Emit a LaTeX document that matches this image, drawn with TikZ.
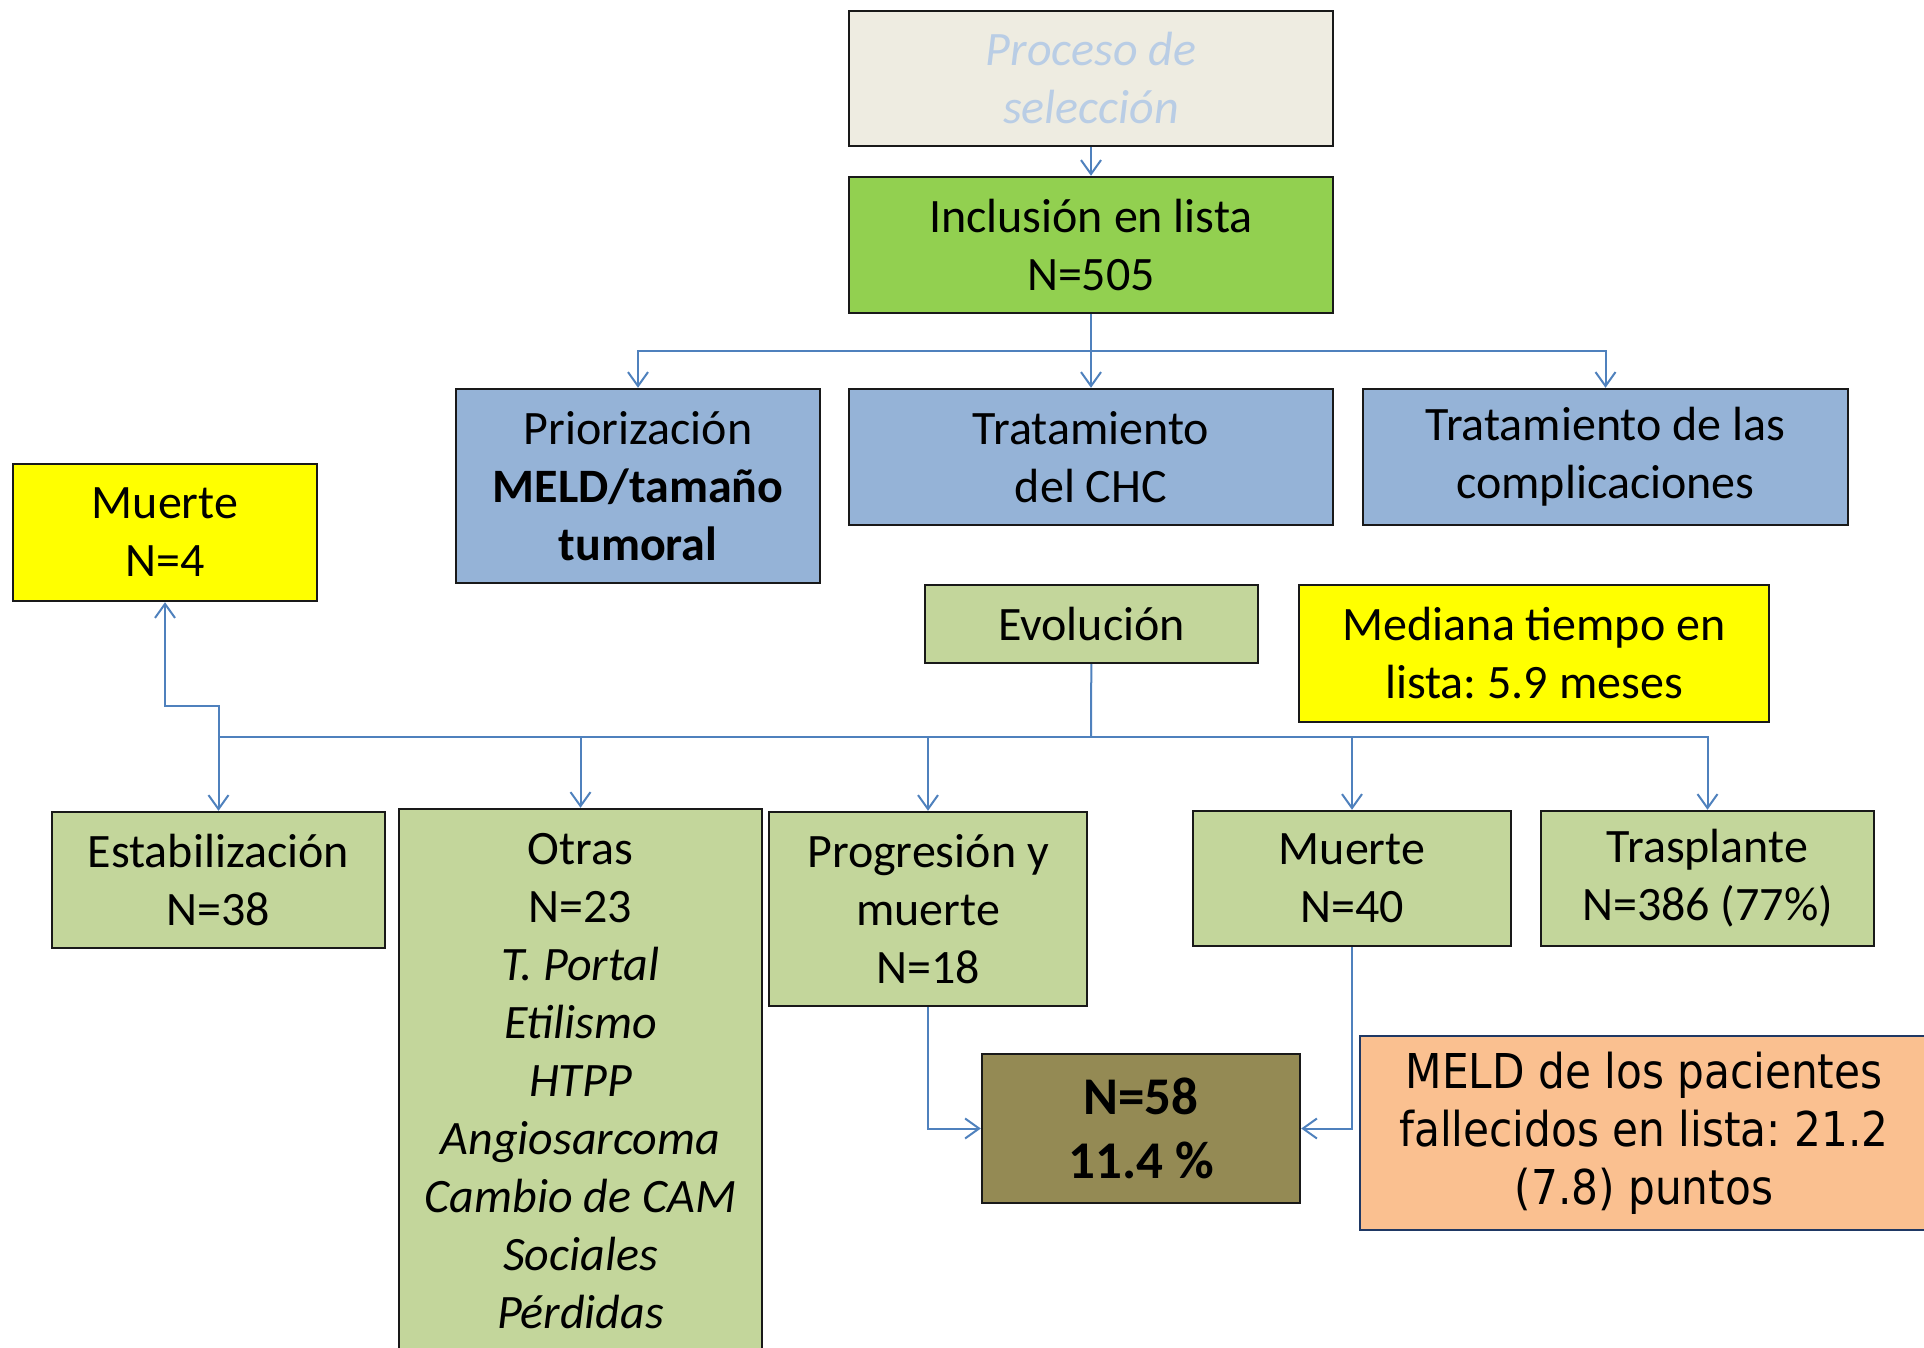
\documentclass[tikz,border=0pt]{standalone}
\usepackage{fontspec}
\setmainfont{Carlito}
\newfontfamily\meldfont[FakeStretch=0.88]{DejaVu Sans}
\usetikzlibrary{arrows.meta}
\frenchspacing

\definecolor{procfondo}{HTML}{EEECE1}
\definecolor{proctexto}{HTML}{B9CDE5}
\definecolor{verdelista}{HTML}{92D050}
\definecolor{azulcaja}{HTML}{95B3D7}
\definecolor{amarillo}{HTML}{FFFF00}
\definecolor{verdeclaro}{HTML}{C3D69B}
\definecolor{oliva}{HTML}{948A54}
\definecolor{melocoton}{HTML}{FAC090}
\definecolor{marino}{HTML}{1F3864}
\definecolor{flecha}{HTML}{4F81BD}

\tikzset{
  caja/.style={draw=black!90, line width=1.2pt, align=center, inner sep=0pt,
    font=\fontsize{24}{29}\selectfont},
  linea/.style={draw=flecha, line width=1pt},
  conector/.style={linea, -{Straight Barb[length=7pt,width=10pt,line width=1pt]}}
}

\begin{document}
\begin{tikzpicture}[x=0.5pt,y=-0.5pt]
\useasboundingbox (0,0) rectangle (1924,1348);

% seleccion e inclusion
\node[caja, fill=procfondo, text=proctexto, minimum width=242pt, minimum height=67.5pt]
  (proceso) at (1091,78.5) {\textit{Proceso de}\\\textit{selección}};
\node[caja, fill=verdelista, minimum width=242pt, minimum height=68pt]
  (inclusion) at (1091,245) {Inclusión en lista\\N=505};

% manejo en lista
\node[caja, fill=azulcaja, minimum width=182pt, minimum height=97pt]
  (prior) at (638,486) {Priorización\\\textbf{MELD/tamaño}\\\textbf{tumoral}};
\node[caja, fill=azulcaja, minimum width=242pt, minimum height=68pt]
  (trat) at (1091,457) {Tratamiento\\del CHC};
\node[caja, fill=azulcaja, minimum width=242.5pt, minimum height=68pt]
  (compl) at (1605.5,457) {Tratamiento de las\\complicaciones};

% evolucion
\node[caja, fill=amarillo, minimum width=152pt, minimum height=68.5pt]
  (muerte4) at (165,532.5) {Muerte\\N=4};
\node[caja, fill=verdeclaro, minimum width=166.5pt, minimum height=39pt]
  (evol) at (1091.5,624) {Evolución};
\node[caja, fill=amarillo, minimum width=235pt, minimum height=68.5pt]
  (mediana) at (1534,653.5) {Mediana tiempo en\\lista: 5.9 meses};

\node[caja, fill=verdeclaro, minimum width=166.5pt, minimum height=68pt]
  (estab) at (218.5,880) {Estabilización\\N=38};
\node[caja, fill=verdeclaro, minimum width=181.5pt, minimum height=272pt]
  (otras) at (580.5,1081) {Otras\\N=23\\\textit{T. Portal}\\\textit{Etilismo}\\\textit{HTPP}\\
  \textit{Angiosarcoma}\\\textit{Cambio de CAM}\\\textit{Sociales}\\\textit{Pérdidas}};
\node[caja, fill=verdeclaro, minimum width=159pt, minimum height=97pt]
  (progresion) at (928,909) {Progresión y\\muerte\\N=18};
\node[caja, fill=verdeclaro, minimum width=159pt, minimum height=67.5pt]
  (muerte40) at (1352,878.5) {Muerte\\N=40};
\node[caja, fill=verdeclaro, minimum width=166.5pt, minimum height=67.5pt]
  (trasplante) at (1707.5,878.5) {Trasplante\\N=386 (77\%)};

% mortalidad en lista
\node[caja, fill=oliva, minimum width=159pt, minimum height=74.5pt,
  font=\fontsize{26.5}{32}\selectfont\bfseries]
  (n58) at (1141,1128.5) {N=58\\11.4 \%};
\node[caja, draw=marino, fill=melocoton, minimum width=284pt, minimum height=97pt,
  font=\fontsize{24}{29}\meldfont]
  (meld) at (1644,1133) {MELD de los pacientes\\fallecidos en lista: 21.2\\(7.8) puntos};

% conectores
\coordinate (rama1) at (1091,351);
\coordinate (rama2) at (1091,737);
\coordinate (codo) at (218.5,706);

\draw[conector] (proceso) -- (inclusion);
\draw[linea] (inclusion) -- (rama1);
\draw[conector] (rama1) -- (trat);
\draw[conector] (rama1) -| (prior);
\draw[conector] (rama1) -| (compl);

\draw[linea] (evol) -- (rama2);
\draw[conector] (rama2) -| (estab);
\draw[conector] (rama2) -| (otras);
\draw[conector] (rama2) -| (progresion);
\draw[conector] (rama2) -| (muerte40);
\draw[conector] (rama2) -| (trasplante);
\draw[conector] (rama2) -| (codo) -| (muerte4);

\draw[conector] (progresion) |- (n58);
\draw[conector] (muerte40) |- (n58);
\end{tikzpicture}
\end{document}
